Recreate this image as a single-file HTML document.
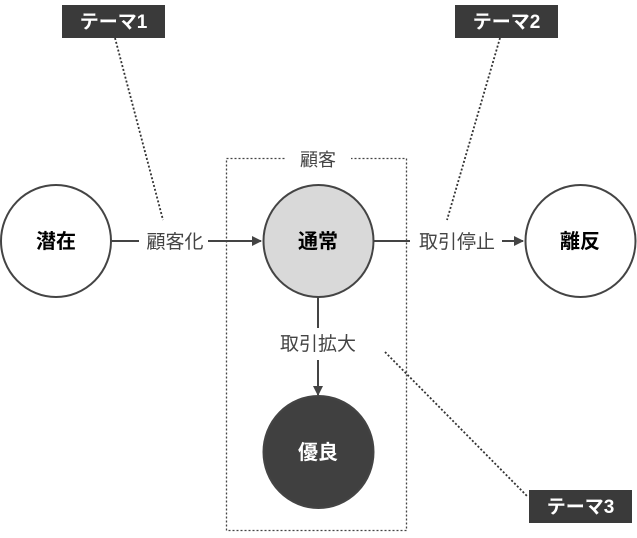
<!DOCTYPE html>
<html><head><meta charset="utf-8"><style>
body{margin:0;background:#fff}
svg text{font-family:"Liberation Sans","Noto Sans CJK JP",sans-serif}
</style></head><body>
<svg width="637" height="533" viewBox="0 0 637 533" xmlns="http://www.w3.org/2000/svg">
<defs><marker id="a" markerWidth="10" markerHeight="10" refX="9" refY="5" orient="auto" markerUnits="userSpaceOnUse"><path d="M0,0 L10,5 L0,10z" fill="#444"/></marker></defs>
<rect x="226.5" y="158.5" width="180" height="372" fill="none" stroke="#444" stroke-width="1.3" stroke-dasharray="2,2"/>
<rect x="285" y="147" width="66" height="24" fill="#fff"/>
<text x="318" y="166" font-size="18" text-anchor="middle" fill="#444">顧客</text>
<g stroke="#333" stroke-width="1.8" stroke-dasharray="2,2" fill="none">
<line x1="115" y1="38" x2="163" y2="220"/>
<line x1="500" y1="38" x2="447" y2="220"/>
<line x1="385" y1="352" x2="528" y2="497"/>
</g>
<g stroke="#444" stroke-width="2" fill="none">
<line x1="111" y1="241" x2="139" y2="241"/>
<line x1="208" y1="241" x2="261" y2="241" marker-end="url(#a)"/>
<line x1="374" y1="241" x2="410" y2="241"/>
<line x1="502" y1="241" x2="523" y2="241" marker-end="url(#a)"/>
<line x1="318" y1="297" x2="318" y2="328"/>
<line x1="318" y1="360" x2="318" y2="395" marker-end="url(#a)"/>
</g>
<text x="175" y="248" font-size="19" text-anchor="middle" fill="#444">顧客化</text>
<text x="457" y="248" font-size="19" text-anchor="middle" fill="#444">取引停止</text>
<text x="318" y="350" font-size="19" text-anchor="middle" fill="#444">取引拡大</text>
<g stroke="#444" stroke-width="2">
<ellipse cx="56" cy="241" rx="55" ry="56" fill="#fff"/>
<ellipse cx="318.5" cy="241" rx="55" ry="56" fill="#d9d9d9"/>
<ellipse cx="580.5" cy="241" rx="55" ry="56" fill="#fff"/>
<ellipse cx="318.5" cy="452" rx="55" ry="56" fill="#404040"/>
</g>
<g font-size="20" font-weight="bold" text-anchor="middle">
<text x="56" y="248" fill="#000">潜在</text>
<text x="318" y="248" fill="#000">通常</text>
<text x="580" y="248" fill="#000">離反</text>
<text x="318" y="459" fill="#fff">優良</text>
</g>
<g fill="#3a3a3a">
<rect x="62" y="5" width="103" height="33"/>
<rect x="455" y="5" width="103" height="33"/>
<rect x="529" y="490" width="103" height="33"/>
</g>
<g font-size="19" font-weight="bold" fill="#fff" text-anchor="middle">
<text x="113.5" y="28">テーマ1</text>
<text x="506.5" y="28">テーマ2</text>
<text x="580.5" y="513">テーマ3</text>
</g>
</svg>
</body></html>
